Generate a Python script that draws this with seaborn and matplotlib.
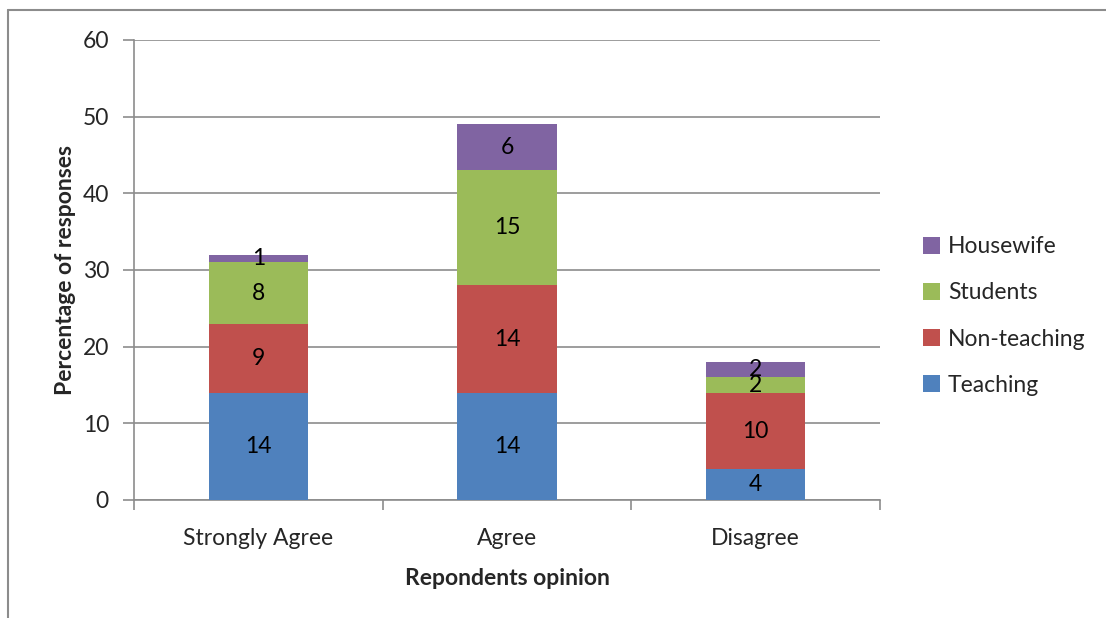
import matplotlib
matplotlib.use("Agg")
import matplotlib.pyplot as plt
import seaborn as sns
import pandas as pd
from matplotlib.lines import Line2D
from matplotlib.patches import Patch

# Survey responses (percent) by opinion and respondent group
opinions = ["Strongly Agree", "Agree", "Disagree"]
teaching = [14, 14, 4]
non_teaching = [9, 14, 10]
students = [8, 15, 2]
housewife = [1, 6, 2]

groups = ["Teaching", "Non-teaching", "Students", "Housewife"]
colors = ["#4F81BD", "#C0504D", "#9BBB59", "#8064A2"]
series = [teaching, non_teaching, students, housewife]

sns.set_theme(style="white")
plt.rcParams["font.family"] = ["Lato", "DejaVu Sans"]

FS = 16.5

fig = plt.figure(figsize=(11.06, 6.18), dpi=100)
ax = fig.add_axes([134 / 1106, 1 - 500 / 618, 746 / 1106, 460 / 618])

bottom = [0] * len(opinions)
for name, vals, col in zip(groups, series, colors):
    df = pd.DataFrame({"opinion": opinions, "value": vals})
    sns.barplot(data=df, x="opinion", y="value", bottom=bottom, color=col,
                width=0.4, saturation=1, ax=ax, linewidth=0, zorder=3)
    for i, (b, v) in enumerate(zip(bottom, vals)):
        ax.text(i, b + v / 2, str(v), ha="center", va="center",
                fontsize=FS, color="black", zorder=4)
    bottom = [b + v for b, v in zip(bottom, vals)]

ax.set_ylim(0, 60)
ax.set_xlim(-0.5, 2.5)
ax.set_yticks(range(0, 61, 10))
ax.yaxis.grid(True, color="#8C8C8C", linewidth=1.2, zorder=0)
ax.set_axisbelow(True)

for s in ["top", "right"]:
    ax.spines[s].set_visible(False)
for s in ["left", "bottom"]:
    ax.spines[s].set_color("#8C8C8C")
    ax.spines[s].set_linewidth(1.2)

ax.tick_params(axis="y", which="major", left=True, length=8, width=1.2,
               color="#8C8C8C", labelsize=FS, pad=10)
ax.tick_params(axis="x", which="major", bottom=False, labelsize=FS, pad=14)
ax.set_xticks([-0.5, 0.5, 1.5, 2.5], minor=True)
ax.tick_params(axis="x", which="minor", bottom=True, length=7, width=1.2,
               color="#8C8C8C")

ax.set_xlabel("Repondents opinion", fontsize=FS, fontweight="bold", labelpad=14)
ax.set_ylabel("Percentage of responses", fontsize=FS, fontweight="bold", labelpad=5)

handles = [Patch(facecolor=c, edgecolor="none", label=g)
           for g, c in zip(groups[::-1], colors[::-1])]
fig.legend(handles=handles, loc="center left", bbox_to_anchor=(902 / 1106, 1 - 316 / 618),
           frameon=False, fontsize=FS, handlelength=0.75, handleheight=0.75,
           labelspacing=1.1, handletextpad=0.35)

# Chart frame (top and left edges)
fig.add_artist(Line2D([8 / 1106, 1.0], [1 - 10 / 618, 1 - 10 / 618],
                      transform=fig.transFigure, color="#8C8C8C", linewidth=1.5))
fig.add_artist(Line2D([8 / 1106, 8 / 1106], [0, 1 - 10 / 618],
                      transform=fig.transFigure, color="#8C8C8C", linewidth=1.5))

fig.savefig("out.png", dpi=100, facecolor="white")
